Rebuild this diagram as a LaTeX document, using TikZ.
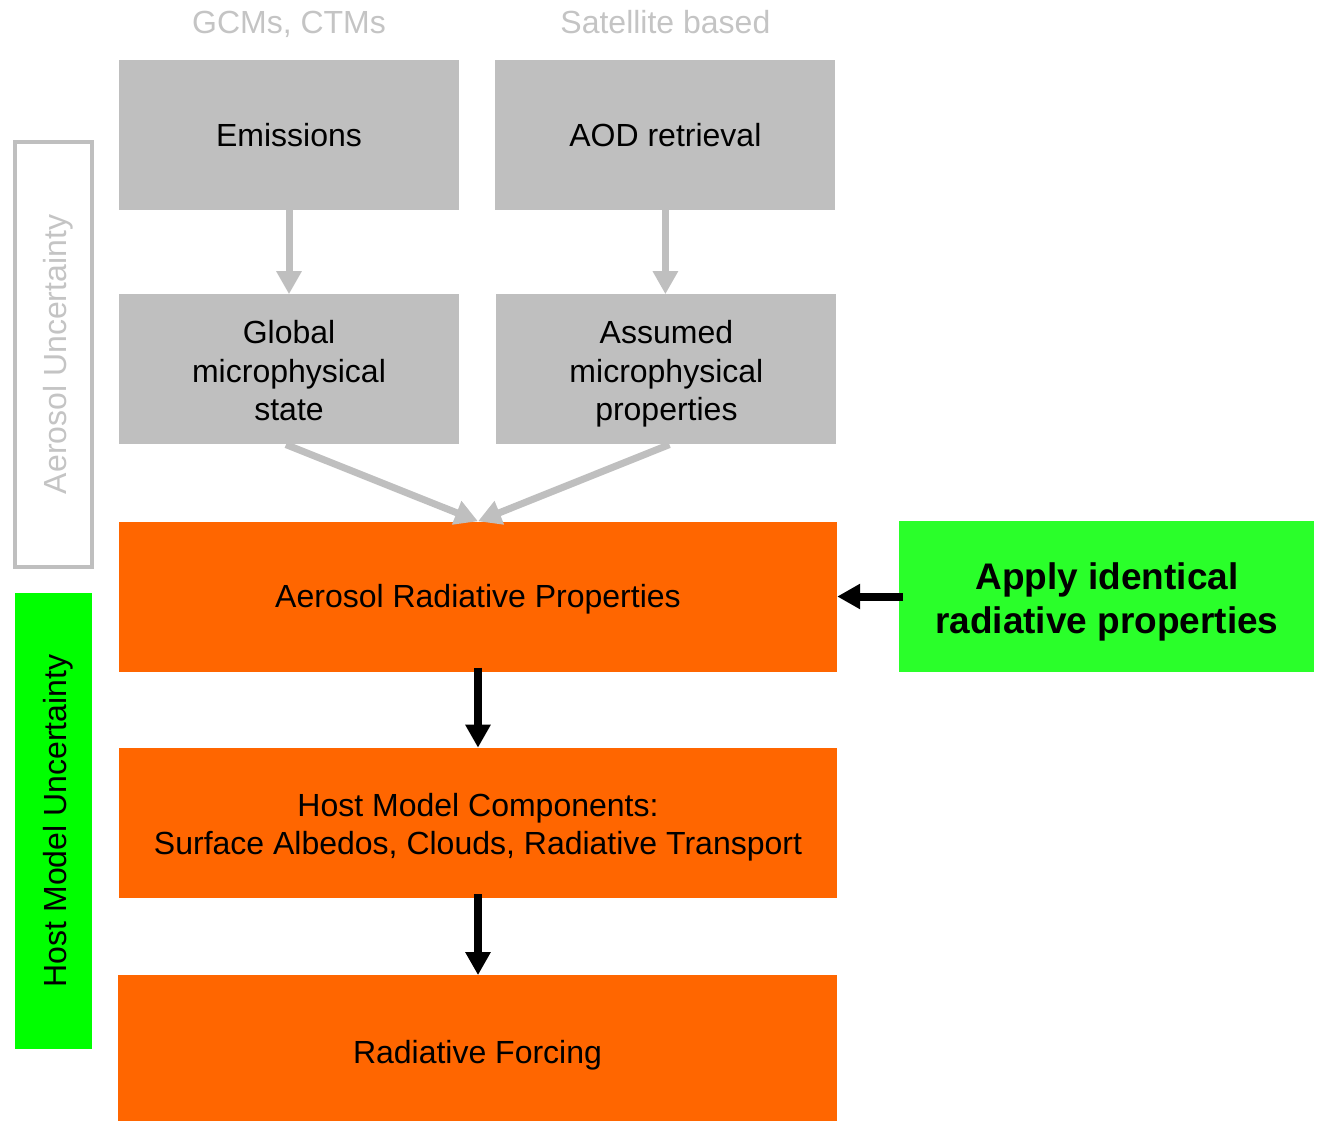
\documentclass[tikz,border=0pt]{standalone}
\usepackage{fontspec}
\setmainfont{Liberation Sans}
\usetikzlibrary{positioning, arrows.meta}

\definecolor{boxgray}{HTML}{BFBFBF}
\definecolor{hdrgray}{HTML}{C4C4C4}
\definecolor{forange}{HTML}{FF6600}
\definecolor{agreen}{HTML}{2AFF2A}
\definecolor{hgreen}{HTML}{00FF00}

\newcommand{\sidetext}[1]{\raisebox{-5pt}[\height][\depth]{#1}}
\newcommand{\boxstrut}{\rule[-0.212em]{0pt}{1.117em}}
\newcommand{\topstrut}{\rule{0pt}{1em}}

\tikzset{
  textbox/.style = {inner sep=0pt, align=center, execute at begin node=\boxstrut, execute at end node=\boxstrut},
  graybox/.style = {textbox, fill=boxgray, minimum width=340pt, minimum height=150pt},
  orangebox/.style = {textbox, fill=forange, minimum width=718pt, minimum height=150pt},
  hdr/.style = {text=hdrgray, inner sep=0pt},
  grayarrow/.style = {draw=boxgray, line width=7pt, -{Triangle[width=24pt, length=23pt]}},
  blackarrow/.style = {draw=black, line width=8pt, -{Triangle[width=24pt, length=23pt]}}
}

\begin{document}
\begin{tikzpicture}[x=1pt, y=-1pt, font=\fontsize{32pt}{38.5pt}\selectfont]
            \useasboundingbox (0,0) rectangle (1318,1121);

            \node[graybox] (emis) at (289,135) {Emissions};
            \node[graybox] (aod) [right = 36pt of emis] {AOD retrieval};
            \node[graybox] (glob) [below = 84pt of emis] {\topstrut Global\\microphysical\\state};
            \node[graybox] (assm) [below = 84pt of aod, xshift=1pt] {\topstrut Assumed\\microphysical\\properties};

            \node[hdr, above = 26pt of emis.north, anchor=base] (gcm) {GCMs, CTMs};
            \node[hdr, above = 26pt of aod.north, anchor=base] (sat) {Satellite based};

            \node[orangebox] (arp) at (478,596.5) {Aerosol Radiative Properties};
            \node[orangebox] (hmc) [below = 76pt of arp] {\topstrut Host Model Components:\\Surface Albedos, Clouds, Radiative Transport};
            \node[orangebox, minimum width=719pt, minimum height=154pt] (rf) [below = 77pt of hmc, xshift=-0.5pt] {Radiative Forcing};

            \node[textbox, fill=agreen, minimum width=415pt, minimum height=151pt,
                  font=\fontsize{37pt}{44pt}\selectfont\bfseries] (apply) [right = 62pt of arp] {\topstrut Apply identical\\radiative properties};

            \node[draw=boxgray, line width=4pt, text=hdrgray, rotate=90, minimum width=425pt, minimum height=77pt,
                  inner sep=0pt] (aunc) at (53.5,354.5) {\sidetext{Aerosol Uncertainty}};
            \node[fill=hgreen, rotate=90, minimum width=456pt, minimum height=77pt, inner sep=0pt] (hunc) at (53.5,821) {\sidetext{Host Model Uncertainty}};

            \path[grayarrow] (emis) -- (glob);
            \path[grayarrow] (aod) -- (aod |- assm.north);
            \path[grayarrow] ([xshift=-3pt]glob.south) -- (arp.north);
            \path[grayarrow] ([xshift=3pt]assm.south) -- (arp.north);

            \path[blackarrow] ([yshift=4pt]arp.south) -- (hmc);
            \path[blackarrow] ([yshift=4pt]hmc.south) -- (rf.north -| hmc);
            \path[blackarrow] ([xshift=4pt]apply.west) -- (arp.east);
          \end{tikzpicture}
\end{document}
